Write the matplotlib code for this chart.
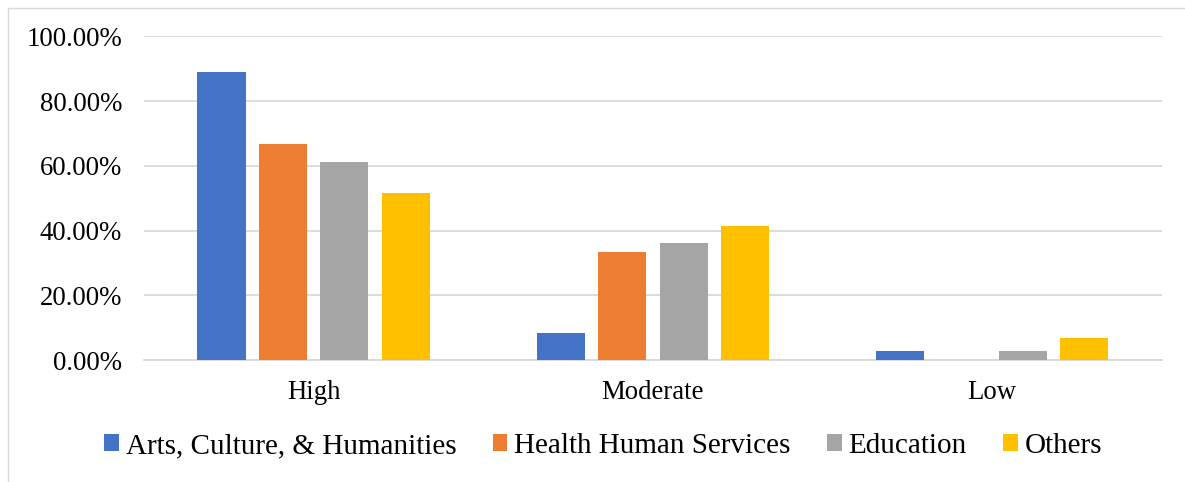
import matplotlib.pyplot as plt
import numpy as np
from matplotlib.ticker import FuncFormatter

plt.rcParams['font.family'] = ['Liberation Serif', 'DejaVu Serif']

categories = ['High', 'Moderate', 'Low']
series_names = ['Arts, Culture, & Humanities', 'Health Human Services', 'Education', 'Others']
arts = [88.89, 8.33, 2.78]
health = [66.67, 33.33, 0.0]
education = [61.11, 36.11, 2.78]
others = [51.72, 41.38, 6.90]
colors = ['#4472C4', '#ED7D31', '#A5A5A5', '#FFC000']

fig = plt.figure(figsize=(11.85, 4.82), dpi=100)
ax = fig.add_axes([0.1215, 0.2525, 0.859, 0.6722])

x = np.arange(len(categories))
width = 0.142
step = 0.181
for i, (vals, name) in enumerate(zip([arts, health, education, others], series_names)):
    ax.bar(x + (i - 1.5) * step, vals, width, color=colors[i], label=name, zorder=3)

ax.set_xlim(-0.5, 2.5)
ax.set_ylim(0, 100)
ax.set_yticks(np.arange(0, 101, 20))
ax.yaxis.set_major_formatter(FuncFormatter(lambda v, p: '%.2f%%' % v))
ax.set_xticks(x)
ax.set_xticklabels(categories)
ax.tick_params(axis='both', length=0, labelsize=19.3, colors='black')
ax.tick_params(axis='x', pad=14)
ax.tick_params(axis='y', pad=15.8)

ax.yaxis.grid(True, color='#D9D9D9', linewidth=1.3, zorder=0)
for s in ['top', 'right', 'left']:
    ax.spines[s].set_visible(False)
ax.spines['bottom'].set_color('#D9D9D9')
ax.spines['bottom'].set_linewidth(1.3)

# chart area border
fig.add_artist(plt.Line2D([8 / 1185, 8 / 1185], [0, 1 - 8 / 482], color='#D9D9D9', lw=1))
fig.add_artist(plt.Line2D([8 / 1185, 1], [1 - 8 / 482, 1 - 8 / 482], color='#D9D9D9', lw=1))

fig.legend(loc='center', bbox_to_anchor=(0.509, 1 - 446 / 482), ncol=4, frameon=False,
           fontsize=21, handlelength=0.51, handleheight=0.51, handletextpad=0.24,
           columnspacing=1.23)

fig.savefig('out.png', dpi=100)
